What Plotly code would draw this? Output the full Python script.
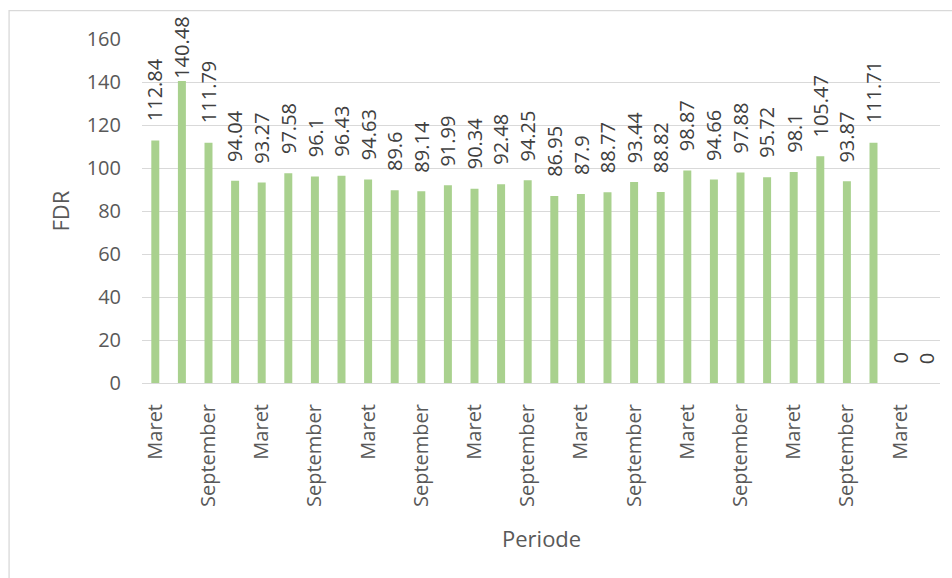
import plotly.graph_objects as go

# Quarterly periods (Maret, Juni, September, Desember) and FDR values
quarters = ["Maret", "Juni", "September", "Desember"]
periods = [quarters[i % 4] for i in range(30)]
fdr = [112.84, 140.48, 111.79, 94.04, 93.27, 97.58, 96.1, 96.43, 94.63, 89.6,
       89.14, 91.99, 90.34, 92.48, 94.25, 86.95, 87.9, 88.77, 93.44, 88.82,
       98.87, 94.66, 97.88, 95.72, 98.1, 105.47, 93.87, 111.71, 0, 0]
y_ticks = [0, 20, 40, 60, 80, 100, 120, 140, 160]

x_idx = list(range(len(fdr)))
tick_idx = [i for i in x_idx if periods[i] in ("Maret", "September")]
tick_txt = [periods[i] for i in tick_idx]

FONT = "Open Sans"
AXIS_GREY = "#595959"
LABEL_GREY = "#404040"
GRID = "#D9D9D9"

L, R, T, B = 141.5, 12, 38.5, 195
W, H = 952, 578
plot_w = W - L - R
plot_h = H - T - B
px_per_unit = plot_h / 160.0

fig = go.Figure(go.Bar(
    x=x_idx, y=fdr,
    marker=dict(color="#A9D18E", line=dict(width=0)),
    hoverinfo="x+y",
))

# rotated value labels above each bar; kept inside the chart frame at the top
annotations = []
for i, v in enumerate(fdr):
    txt = f"{v:g}"
    top_px = T + plot_h - v * px_per_unit
    label_len = len(txt) * 10.5
    gap = 17
    if top_px - gap - label_len < 18:
        gap = max(0, top_px - label_len - 18)
    annotations.append(dict(
        x=i, y=v, xref="x", yref="y", text=txt, showarrow=False,
        textangle=-90, xanchor="center", yanchor="bottom", yshift=gap,
        font=dict(family=FONT, size=20, color=LABEL_GREY),
    ))

# axis titles
annotations.append(dict(
    x=(59 - L) / plot_w, y=0.5, xref="paper", yref="paper", text="FDR",
    showarrow=False, textangle=-90, xanchor="center", yanchor="middle",
    font=dict(family=FONT, size=22, color=AXIS_GREY),
))
annotations.append(dict(
    x=0.5, y=-(538 - (T + plot_h)) / plot_h, xref="paper", yref="paper",
    text="Periode", showarrow=False, xanchor="center", yanchor="middle",
    font=dict(family=FONT, size=22, color=AXIS_GREY),
))

# chart frame
frame = dict(
    type="rect", xref="paper", yref="paper", layer="below",
    x0=(8.5 - L) / plot_w, x1=(W + 10 - L) / plot_w,
    y0=-(H + 10 - T - plot_h) / plot_h, y1=(T + plot_h - 10) / plot_h,
    line=dict(color=GRID, width=1.3), fillcolor="rgba(0,0,0,0)",
)

fig.update_layout(
    width=W, height=H,
    margin=dict(l=L, r=R, t=T, b=B, pad=0),
    paper_bgcolor="white", plot_bgcolor="white",
    bargap=0.7, showlegend=False,
    font=dict(family=FONT, color=AXIS_GREY),
    annotations=annotations,
    shapes=[frame],
    xaxis=dict(
        range=[-0.5, len(fdr) - 0.5],
        tickmode="array", tickvals=tick_idx, ticktext=tick_txt,
        tickangle=-90, tickfont=dict(family=FONT, size=20, color=AXIS_GREY),
        showgrid=False, zeroline=False, showline=False, ticks="",
        ticklabelstandoff=16,
    ),
    yaxis=dict(
        range=[0, 160], tickmode="array", tickvals=y_ticks,
        tickfont=dict(family=FONT, size=20, color=AXIS_GREY),
        showgrid=True, gridcolor=GRID, gridwidth=1.3,
        zeroline=True, zerolinecolor=GRID, zerolinewidth=1.3,
        showline=False, ticks="", ticklabelstandoff=20,
    ),
)

fig.write_html("out.html")
